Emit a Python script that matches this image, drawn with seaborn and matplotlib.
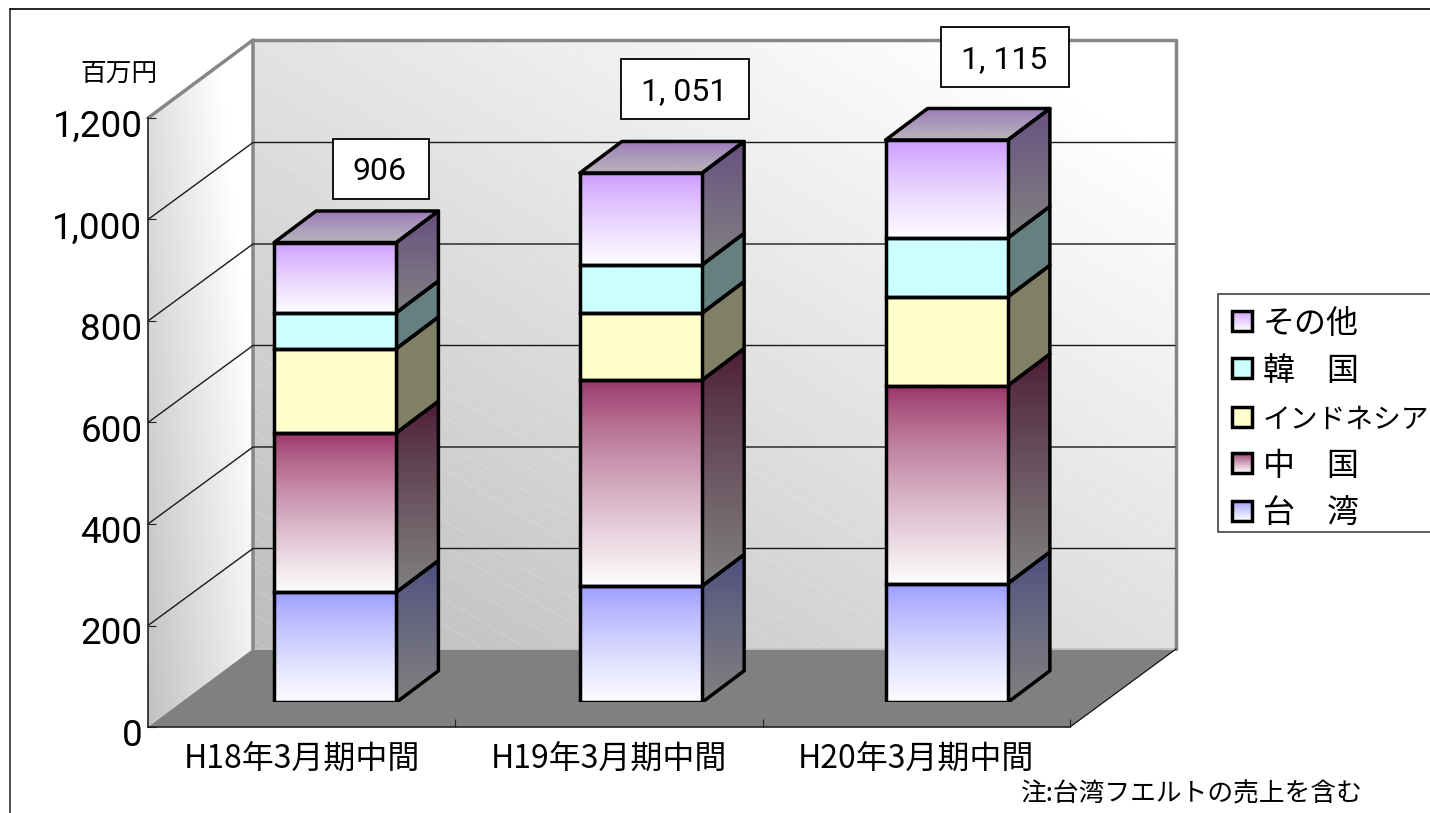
from __future__ import annotations

import matplotlib
matplotlib.use("Agg")
import matplotlib.pyplot as plt
from matplotlib.colors import to_rgb
from matplotlib.patches import Polygon, Rectangle
from matplotlib.transforms import ScaledTranslation
import numpy as np
import seaborn as sns

periods = ["H18年3月期中間", "H19年3月期中間", "H20年3月期中間"]
series_names = ["台\u3000湾", "中\u3000国", "インドネシア", "韓\u3000国", "その他"]
taiwan = [217, 229, 234]
china = [314, 406, 390]
indonesia = [166, 132, 175]
korea = [71, 95, 116]
others = [138, 181, 193]
total_labels = ["906", "1, 051", "1, 115"]
y_ticks = [0, 200, 400, 600, 800, 1000, 1200]
y_tick_labels = ["0", "200", "400", "600", "800", "1,000", "1,200"]

W, H = 1430, 813
NUM_FONT = ["Roboto", "Liberation Sans", "DejaVu Sans"]
EDGE = 2.5

# top colour, bottom colour for the front and right hand faces
FRONT = [
    ("#9999FF", "#FDFDFF"),
    ("#993366", "#FDFDFD"),
    ("#FFFFCC", "#FFFFCC"),
    ("#CCFFFF", "#CCFFFF"),
    ("#CC99FF", "#FDFDFF"),
]
SIDE = [
    ("#4C4C80", "#808080"),
    ("#4C1933", "#808080"),
    ("#808066", "#808066"),
    ("#668080", "#668080"),
    ("#664C80", "#808080"),
]


def px_axes(left, top, right, bottom, zorder):
    ax = plt.gcf().add_axes(
        [left / W, 1 - bottom / H, (right - left) / W, (bottom - top) / H], zorder=zorder
    )
    ax.patch.set_alpha(0)
    return ax


def ramp(top, bottom, n=160):
    t = np.linspace(0, 1, n)[:, None, None] ** 0.8
    return (1 - t) * np.array(to_rgb(top))[None, None, :] + t * np.array(to_rgb(bottom))[None, None, :]


def face(ax, verts, top, bottom, y_low, y_high, zorder=2, lw=EDGE, join="miter"):
    xs = [v[0] for v in verts]
    img = ax.imshow(
        ramp(top, bottom),
        extent=(min(xs), max(xs), y_low, y_high),
        origin="upper",
        aspect="auto",
        zorder=zorder,
        interpolation="bilinear",
    )
    poly = Polygon(verts, closed=True, fc="none", ec="black", lw=lw, joinstyle=join, zorder=zorder + 0.5)
    ax.add_patch(poly)
    img.set_clip_path(poly)


def wall(ax, verts, base, gain_x, gain_y, streaks=True):
    xs = np.array([v[0] for v in verts])
    ys = np.array([v[1] for v in verts])
    u, v = np.meshgrid(np.linspace(0, 1, 120), np.linspace(1, 0, 200))
    shade = np.clip(base + gain_x * u + gain_y * v, 0, 1)
    img = ax.imshow(
        np.dstack([shade] * 3),
        extent=(xs.min(), xs.max(), ys.max(), ys.min()),
        origin="upper",
        aspect="auto",
        zorder=1,
    )
    clip = Polygon(verts, closed=True, fc="none", ec="none")
    ax.add_patch(clip)
    img.set_clip_path(clip)
    if not streaks:
        return
    for start in np.arange(-700, 800, 26):
        line, = ax.plot(
            [xs.min(), xs.max()],
            [ys.min() + start, ys.min() + start + 0.6 * (xs.max() - xs.min())],
            color="white",
            lw=0.6,
            alpha=0.22,
            zorder=1.2,
        )
        line.set_clip_path(clip)


sns.set_theme(style="white")
plt.rcParams["font.family"] = ["Noto Sans CJK JP", "DejaVu Sans"]
fig = plt.figure(figsize=(W / 100, H / 100), dpi=100, facecolor="white")

# background: frame, walls and floor in pixel coordinates
bg = px_axes(0, 0, W, H, 0)
bg.plot([10, 10], [H, 9], color="#333333", lw=1.2, zorder=1)
bg.plot([10, W], [9, 9], color="black", lw=1.2, zorder=1)
wall(bg, [(253, 40), (1176, 40), (1176, 649), (253, 649)], 0.74, 0.14, 0.15)
wall(bg, [(148, 118), (253, 40), (253, 649), (148, 727)], 0.76, 0.18, 0.12, streaks=False)
bg.add_patch(Polygon([(148, 727), (1070, 727), (1176, 649), (253, 649)], fc="#808080", ec="none", zorder=2))
bg.plot([253, 1176], [649, 649], color="#C4C4C4", lw=1.4, zorder=2.2)
bg.plot([148, 253, 253], [118, 40, 649], color="#868686", lw=2.5, zorder=2.5)
bg.plot([253, 1176, 1176], [40, 40, 649], color="#868686", lw=2.5, zorder=2.5)
bg.plot([1070, 1176], [727, 649], color="#111111", lw=0.9, zorder=2.5)
bg.set_xlim(0, W)
bg.set_ylim(H, 0)
bg.axis("off")

# front plane of the box: carries the axes, ticks and gridlines
main = px_axes(148, 118, 1070, 727, 1)
main.set_xlim(-0.5, 2.5)
main.set_ylim(0, 1200)
depth_x = 105 / (922 / 3)
depth_y = 77 / (609 / 1200)
for v in y_ticks[1:-1]:
    main.plot(
        [-0.5, -0.5 + depth_x, 2.5 + depth_x],
        [v, v + depth_y, v + depth_y],
        color="#1A1A1A",
        lw=1.0,
        clip_on=False,
    )
main.set_yticks(y_ticks, y_tick_labels, family=NUM_FONT, fontsize=26.5, color="black")
main.set_xticks([0, 1, 2], periods, fontsize=23, color="black")
main.set_xticks([0.5, 1.5, 2.5], minor=True)
main.tick_params(axis="y", direction="in", length=5.8, width=0.8, color="#222222", pad=4, left=True)
main.tick_params(axis="x", which="major", length=0, pad=12)
main.tick_params(axis="x", which="minor", direction="in", length=5.8, width=0.8, color="#222222", bottom=True)
sns.despine(ax=main)
for side in ["left", "bottom"]:
    main.spines[side].set_color("#222222")
    main.spines[side].set_linewidth(1.2)
nudge = ScaledTranslation(0, -5 / 100, fig.dpi_scale_trans)
for label in main.get_yticklabels():
    label.set_transform(label.get_transform() + nudge)

# stacked bars, pushed back into the box
bars = px_axes(182.4, 93.3, 1099.6, 702.3, 2)
stack = [taiwan, china, indonesia, korea, others]
bottoms = np.zeros(len(periods))
for values, name, (top, low) in zip(stack, series_names, FRONT):
    sns.barplot(x=periods, y=values, bottom=bottoms, width=0.4, color=top, saturation=1, ax=bars, label=name)
    bottoms = bottoms + np.array(values)
legend = bars.get_legend()
if legend is not None:
    legend.remove()

bar_dx = 42 / 305.75
bar_dy = 31.5 / (609 / 1200)
bars.set_autoscale_on(False)
n_cat = len(periods)
for s, container in enumerate(bars.containers):
    for rect in container:
        x0, y0 = rect.get_x(), rect.get_y()
        w, h = rect.get_width(), rect.get_height()
        x1, y1 = x0 + w, y0 + h
        rect.set_visible(False)
        face(
            bars,
            [(x1, y0), (x1 + bar_dx, y0 + bar_dy), (x1 + bar_dx, y1 + bar_dy), (x1, y1)],
            *SIDE[s],
            y0,
            y1 + bar_dy,
            join="round",
        )
        if s == len(stack) - 1:
            face(
                bars,
                [(x0, y1), (x1, y1), (x1 + bar_dx, y1 + bar_dy), (x0 + bar_dx, y1 + bar_dy)],
                "#9A76BA",
                "#B8B4BA",
                y1,
                y1 + bar_dy,
                join="round",
            )
        face(bars, [(x0, y0), (x1, y0), (x1, y1), (x0, y1)], *FRONT[s], y0, y1, zorder=3)
bars.set_xlim(-0.5, n_cat - 0.5)
bars.set_ylim(0, 1200)
bars.axis("off")

# labels, legend and notes on top
fg = px_axes(0, 0, W, H, 3)
boxes = [(333, 139, 96, 60), (621, 59, 128, 60), (941, 27, 128, 60)]
for (bx, by, bw, bh), text in zip(boxes, total_labels):
    fg.add_patch(Rectangle((bx, by), bw, bh, fc="white", ec="black", lw=1.3, zorder=2))
    fg.text(bx + bw / 2 - 1, by + bh / 2 + 3, text, family=NUM_FONT, fontsize=23, ha="center", va="center", color="black", zorder=3)

fg.add_patch(Rectangle((1218, 294), 230, 238, fc="white", ec="#333333", lw=1.1, zorder=2))
legend_y = [511, 463, 417, 368, 321]
for s, (name, cy) in enumerate(zip(series_names, legend_y)):
    top_y, low_y = cy - 10, cy + 10
    face(fg, [(1232, top_y), (1252, top_y), (1252, low_y), (1232, low_y)], *FRONT[s], low_y, top_y, zorder=3)
    size = 20 if name == "インドネシア" else 23
    fg.text(1263, cy + 3, name, fontsize=size, ha="left", va="center", color="black", zorder=4)

fg.text(119, 74, "百万円", fontsize=18.5, ha="center", va="center", color="black")
fg.text(1021, 794, "注:台湾フエルトの売上を含む", fontsize=18.5, ha="left", va="center", color="black")
fg.set_xlim(0, W)
fg.set_ylim(H, 0)
fg.axis("off")

fig.savefig("out.png", dpi=100)
